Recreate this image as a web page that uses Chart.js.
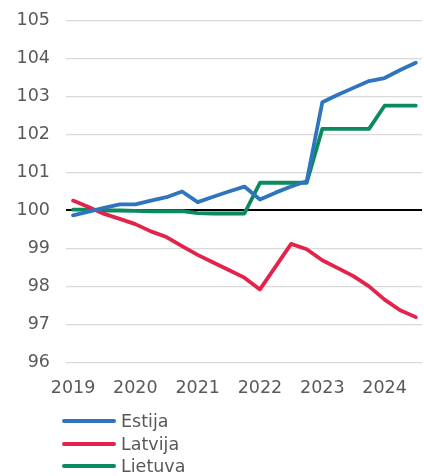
<!DOCTYPE html>
<html>
<head>
<meta charset="utf-8">
<script src="https://cdn.jsdelivr.net/npm/chart.js@4/dist/chart.umd.min.js"></script>
<style>
  html, body { margin: 0; padding: 0; background: #ffffff; }
  #wrap { position: relative; width: 424px; height: 476px; }
  #c { position: absolute; left: 0; top: 0; }
  #legend { position: absolute; left: 62px; top: 410px; font-family: "DejaVu Sans", Verdana, sans-serif; font-size: 17.5px; color: #595959; }
  .item { display: flex; align-items: center; height: 22.5px; }
  .swatch { width: 54px; height: 4px; margin-right: 5px; border-radius: 2px; }
</style>
</head>
<body>
<div id="wrap">
  <canvas id="c" width="424" height="476"></canvas>
  <div id="legend"></div>
</div>
<script>
// Quarterly data 2019Q1 .. 2024Q3
const quarters = ["2019Q1","2019Q2","2019Q3","2019Q4","2020Q1","2020Q2","2020Q3","2020Q4",
  "2021Q1","2021Q2","2021Q3","2021Q4","2022Q1","2022Q2","2022Q3","2022Q4",
  "2023Q1","2023Q2","2023Q3","2023Q4","2024Q1","2024Q2","2024Q3"];
const yearLabels = ["2019","2020","2021","2022","2023","2024"];
const yTicks = [96,97,98,99,100,101,102,103,104,105];
const seriesNames = ["Estija","Latvija","Lietuva"];
const estija = [99.87,99.97,100.07,100.16,100.16,100.26,100.35,100.50,
  100.22,100.36,100.50,100.63,100.29,100.47,100.63,100.77,
  102.85,103.05,103.23,103.41,103.49,103.70,103.89];
const latvija = [100.26,100.09,99.91,99.78,99.64,99.45,99.30,99.06,
  98.83,98.63,98.43,98.23,97.92,98.52,99.12,98.98,
  98.69,98.48,98.27,98.00,97.65,97.37,97.19];
const lietuva = [100.02,100.02,100.00,100.00,99.99,99.98,99.98,99.98,
  99.93,99.92,99.92,99.92,100.73,100.73,100.73,100.73,
  102.15,102.15,102.15,102.15,102.76,102.76,102.76];
const colors = ["#2E75BE","#E4234C","#0B8A5B"];

const toPoints = arr => arr.map((v, i) => ({ x: i, y: v }));
const font = { family: "'DejaVu Sans', Verdana, sans-serif", size: 17.5 };

new Chart(document.getElementById('c'), {
  type: 'line',
  data: {
    datasets: [estija, latvija, lietuva].map((arr, k) => ({
      label: seriesNames[k],
      data: toPoints(arr),
      borderColor: colors[k],
      backgroundColor: colors[k],
      borderWidth: 3.8,
      pointRadius: 0,
      tension: 0,
      borderJoinStyle: 'round',
      borderCapStyle: 'round'
    }))
  },
  options: {
    responsive: false,
    animation: false,
    layout: { padding: { top: 20.7, right: 2, left: 0, bottom: 0 } },
    plugins: { legend: { display: false }, tooltip: { enabled: false } },
    scales: {
      x: {
        type: 'linear',
        min: -0.45,
        max: 22.4,
        grid: { display: false },
        border: { display: false },
        afterBuildTicks: s => { s.ticks = yearLabels.map((_, i) => ({ value: i * 4 })); },
        afterFit: s => { s.height = 476 - 362.3; s.paddingLeft = 0; s.paddingRight = 0; },
        ticks: {
          autoSkip: false,
          maxRotation: 0,
          padding: 8,
          color: '#595959',
          font: font,
          callback: v => yearLabels[Math.round(v / 4)]
        }
      },
      y: {
        min: 96,
        max: 105,
        border: { display: false },
        afterBuildTicks: s => { s.ticks = yTicks.map(v => ({ value: v })); },
        afterFit: s => { s.width = 66; s.paddingTop = 0; s.paddingBottom = 0; },
        grid: {
          drawTicks: false,
          color: c => c.tick && c.tick.value === 100 ? '#000000' : '#d9d9d9',
          lineWidth: c => c.tick && c.tick.value === 100 ? 2 : 1.2
        },
        ticks: {
          padding: 16,
          color: '#595959',
          font: font
        }
      }
    }
  }
});

const leg = document.getElementById('legend');
seriesNames.forEach((n, k) => {
  const d = document.createElement('div');
  d.className = 'item';
  d.innerHTML = '<span class="swatch" style="background:' + colors[k] + '"></span><span>' + n + '</span>';
  leg.appendChild(d);
});
</script>
</body>
</html>
